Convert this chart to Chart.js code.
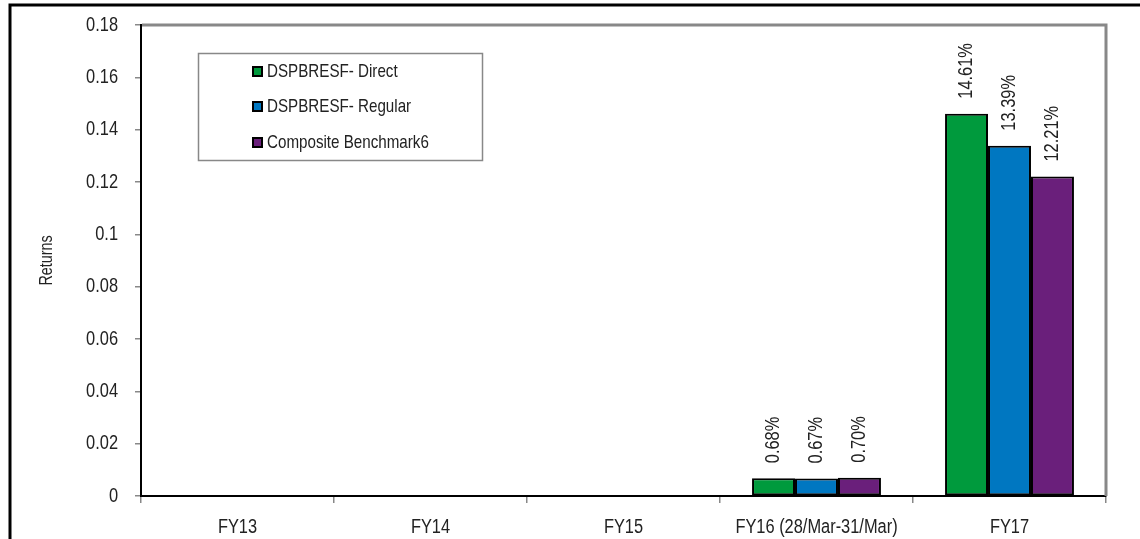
<!DOCTYPE html>
<html>
<head>
<meta charset="utf-8">
<script src="https://cdn.jsdelivr.net/npm/chart.js@4"></script>
<style>
html,body{margin:0;padding:0;background:#fff;}
#wrap{width:1140px;height:539px;position:relative;}
</style>
</head>
<body>
<div id="wrap"><canvas id="c"></canvas></div>
<script>
const categories = ['FY13', 'FY14', 'FY15', 'FY16 (28/Mar-31/Mar)', 'FY17'];
const seriesNames = ['DSPBRESF- Direct', 'DSPBRESF- Regular', 'Composite Benchmark6'];
const directValues = [null, null, null, 0.0068, 0.1461];
const regularValues = [null, null, null, 0.0067, 0.1339];
const benchmarkValues = [null, null, null, 0.0070, 0.1221];
const yTickValues = [0, 0.02, 0.04, 0.06, 0.08, 0.1, 0.12, 0.14, 0.16, 0.18];
const yTitle = 'Returns';
const colors = ['#009A3D', '#0077C1', '#6A1F7B'];

const FONT = "'Liberation Sans', Arial, sans-serif";
const TXT = '#222';
const NARROW = 0.82;

function ctext(ctx, text, x, y, align, size, rot) {
  ctx.save();
  ctx.translate(x, y);
  if (rot) ctx.rotate(rot);
  ctx.scale(NARROW, 1);
  ctx.font = size + 'px ' + FONT;
  ctx.fillStyle = TXT;
  ctx.textAlign = align;
  ctx.textBaseline = 'middle';
  ctx.fillText(text, 0, 0);
  ctx.restore();
}

const framePlugin = {
  id: 'frame',
  afterDraw(chart) {
    const ctx = chart.ctx, a = chart.chartArea;
    ctx.save();
    ctx.strokeStyle = '#000';
    ctx.lineWidth = 3;
    ctx.beginPath();
    ctx.moveTo(10, 545);
    ctx.lineTo(10, 5);
    ctx.lineTo(1145, 5);
    ctx.stroke();
    ctx.strokeStyle = '#888';
    ctx.lineWidth = 3;
    ctx.beginPath();
    ctx.moveTo(a.left + 1, a.top);
    ctx.lineTo(a.right, a.top);
    ctx.lineTo(a.right, a.bottom);
    ctx.stroke();
    ctx.restore();
  }
};

const axisTextPlugin = {
  id: 'axistext',
  afterDraw(chart) {
    const ctx = chart.ctx, a = chart.chartArea;
    const xs = chart.scales.x, ys = chart.scales.y;
    categories.forEach((c, i) => {
      ctext(ctx, c, xs.getPixelForValue(i), 527, 'center', 20);
    });
    yTickValues.forEach(v => {
      ctext(ctx, String(v), 118, ys.getPixelForValue(v), 'right', 20);
    });
    ctext(ctx, yTitle, 47, (a.top + a.bottom) / 2, 'center', 17.5, -Math.PI / 2);
  }
};

const labelPlugin = {
  id: 'vlabels',
  afterDatasetsDraw(chart) {
    const ctx = chart.ctx;
    chart.data.datasets.forEach((ds, i) => {
      const meta = chart.getDatasetMeta(i);
      meta.data.forEach((el, j) => {
        const v = ds.data[j];
        if (v === null || v === undefined) return;
        ctext(ctx, (v * 100).toFixed(2) + '%', el.x, el.y - 15, 'left', 20, -Math.PI / 2);
      });
    });
  }
};

const legendPlugin = {
  id: 'boxlegend',
  afterDraw(chart) {
    const ctx = chart.ctx;
    ctx.save();
    ctx.strokeStyle = '#888';
    ctx.lineWidth = 1.5;
    ctx.strokeRect(198.5, 53.5, 284, 107);
    const rows = [72, 107, 143];
    chart.data.datasets.forEach((ds, i) => {
      const y = rows[i];
      ctx.fillStyle = ds.backgroundColor;
      ctx.fillRect(253, y - 5, 9, 9);
      ctx.strokeStyle = '#000';
      ctx.lineWidth = 2;
      ctx.strokeRect(253, y - 5, 9, 9);
      ctext(ctx, ds.label, 267, y, 'left', 18.5);
    });
    ctx.restore();
  }
};

const datasets = [directValues, regularValues, benchmarkValues].map((vals, i) => ({
  label: seriesNames[i],
  data: vals,
  backgroundColor: colors[i],
  borderColor: '#000',
  borderWidth: 2,
  borderSkipped: false,
  categoryPercentage: 0.668,
  barPercentage: 1.0
}));

new Chart(document.getElementById('c'), {
  type: 'bar',
  data: { labels: categories, datasets: datasets },
  options: {
    responsive: true,
    maintainAspectRatio: false,
    animation: false,
    devicePixelRatio: 1,
    layout: { padding: { left: 30, top: 25, right: 34, bottom: 0 } },
    plugins: { legend: { display: false }, tooltip: { enabled: false } },
    scales: {
      x: {
        grid: { offset: true, drawOnChartArea: false, drawTicks: true, tickLength: 7, color: '#888', lineWidth: 1.5 },
        border: { color: '#000', width: 2 },
        ticks: { display: false, autoSkip: false },
        afterFit(s) { s.height = 43; }
      },
      y: {
        min: 0, max: 0.18,
        afterBuildTicks(s) { s.ticks = yTickValues.map(v => ({ value: v })); },
        grid: { drawOnChartArea: false, drawTicks: true, tickLength: 6, color: '#888', lineWidth: 1.5 },
        border: { color: '#000', width: 2 },
        ticks: { display: false },
        afterFit(s) { s.width = 111; }
      }
    }
  },
  plugins: [framePlugin, labelPlugin, legendPlugin, axisTextPlugin]
});
</script>
</body>
</html>
